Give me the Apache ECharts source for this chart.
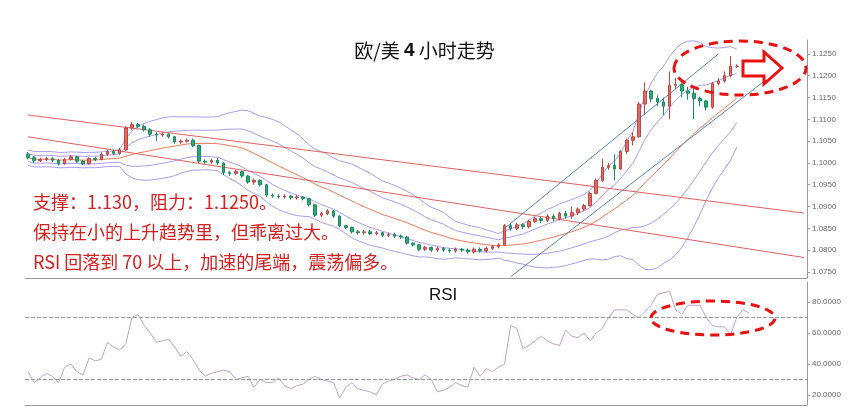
<!DOCTYPE html><html><head><meta charset="utf-8">
<script src="https://cdn.jsdelivr.net/npm/echarts@6/dist/echarts.min.js"></script>
<style>html,body{margin:0;background:#fff}#c{width:849px;height:419px}</style></head><body><div id="c"></div>
<script>
// candles: [open, close, low, high]
const candles = [
[1.1020,1.1012,1.1008,1.1025],[1.1012,1.1005,1.1000,1.1016],[1.1005,1.1008,1.1002,1.1012],[1.1008,1.1010,1.1004,1.1014],
[1.1010,1.1006,1.1002,1.1013],[1.1006,1.0998,1.0994,1.1009],[1.0998,1.1008,1.0996,1.1012],[1.1008,1.1014,1.1005,1.1018],
[1.1014,1.1004,1.1000,1.1016],[1.1004,1.0998,1.0995,1.1007],[1.0998,1.1010,1.0996,1.1013],[1.1010,1.1008,1.1004,1.1014],
[1.1008,1.1020,1.1006,1.1024],[1.1020,1.1026,1.1016,1.1030],[1.1026,1.1022,1.1018,1.1030],[1.1022,1.1030,1.1018,1.1034],
[1.1030,1.1080,1.1028,1.1084],[1.1080,1.1088,1.1076,1.1094],[1.1088,1.1084,1.1080,1.1092],[1.1084,1.1076,1.1072,1.1088],
[1.1076,1.1066,1.1060,1.1080],[1.1066,1.1064,1.1050,1.1070],[1.1064,1.1066,1.1060,1.1070],[1.1066,1.1060,1.1056,1.1068],
[1.1060,1.1048,1.1044,1.1062],[1.1048,1.1050,1.1044,1.1054],[1.1050,1.1052,1.1046,1.1056],[1.1052,1.1040,1.1036,1.1056],
[1.1040,1.1004,1.1000,1.1042],[1.1004,1.1002,1.0998,1.1008],[1.1002,1.1006,1.0998,1.1010],[1.1006,1.1000,1.0996,1.1012],
[1.1000,1.0978,1.0972,1.1002],[1.0978,1.0976,1.0970,1.0982],[1.0976,1.0980,1.0972,1.0984],[1.0980,1.0970,1.0966,1.0982],
[1.0970,1.0956,1.0952,1.0972],[1.0956,1.0960,1.0950,1.0964],[1.0960,1.0950,1.0946,1.0962],[1.0950,1.0926,1.0922,1.0952],
[1.0926,1.0924,1.0920,1.0930],[1.0924,1.0922,1.0918,1.0928],[1.0922,1.0924,1.0918,1.0928],[1.0924,1.0920,1.0916,1.0926],
[1.0920,1.0922,1.0916,1.0926],[1.0922,1.0918,1.0914,1.0924],[1.0918,1.0904,1.0900,1.0920],[1.0904,1.0880,1.0876,1.0906],
[1.0880,1.0884,1.0876,1.0888],[1.0884,1.0890,1.0880,1.0894],[1.0890,1.0878,1.0874,1.0892],[1.0878,1.0856,1.0852,1.0880],
[1.0856,1.0852,1.0848,1.0858],[1.0852,1.0842,1.0838,1.0854],[1.0842,1.0840,1.0836,1.0846],[1.0840,1.0842,1.0836,1.0846],
[1.0842,1.0838,1.0834,1.0846],[1.0838,1.0840,1.0834,1.0844],[1.0840,1.0834,1.0830,1.0842],[1.0834,1.0836,1.0830,1.0840],
[1.0836,1.0832,1.0828,1.0840],[1.0832,1.0830,1.0826,1.0836],[1.0830,1.0816,1.0812,1.0832],[1.0816,1.0812,1.0808,1.0818],
[1.0812,1.0802,1.0798,1.0814],[1.0802,1.0806,1.0798,1.0810],[1.0806,1.0800,1.0796,1.0808],
[1.0800,1.0804,1.0796,1.0808],[1.0804,1.0800,1.0796,1.0807],[1.0800,1.0798,1.0794,1.0804],[1.0798,1.0802,1.0794,1.0806],[1.0802,1.0800,1.0796,1.0805],
[1.0800,1.0796,1.0792,1.0804],
[1.0796,1.0802,1.0792,1.0806],[1.0802,1.0798,1.0794,1.0806],[1.0798,1.0804,1.0794,1.0808],[1.0804,1.0808,1.0800,1.0812],
[1.0808,1.0812,1.0804,1.0816],[1.0812,1.0856,1.0810,1.0860],[1.0856,1.0850,1.0844,1.0860],[1.0850,1.0858,1.0846,1.0862],
[1.0858,1.0854,1.0848,1.0862],[1.0854,1.0866,1.0850,1.0870],[1.0866,1.0872,1.0862,1.0876],[1.0872,1.0868,1.0862,1.0876],
[1.0868,1.0878,1.0864,1.0882],[1.0878,1.0872,1.0866,1.0882],[1.0872,1.0884,1.0868,1.0888],[1.0884,1.0878,1.0872,1.0890],
[1.0878,1.0886,1.0872,1.0900],[1.0886,1.0894,1.0880,1.0898],[1.0894,1.0902,1.0890,1.0906],[1.0902,1.0930,1.0900,1.0934],
[1.0930,1.0960,1.0928,1.0964],[1.0960,1.0990,1.0956,1.1010],[1.0990,1.0994,1.0984,1.1000],
[1.0994,1.0986,1.0960,1.1020],[1.0986,1.1026,1.0984,1.1030],[1.1026,1.1052,1.1020,1.1056],
[1.1052,1.1060,1.1040,1.1070],[1.1060,1.1135,1.1058,1.1140],[1.1135,1.1165,1.1110,1.1185],[1.1165,1.1148,1.1140,1.1168],
[1.1148,1.1140,1.1130,1.1155],[1.1140,1.1130,1.1110,1.1150],[1.1130,1.1178,1.1100,1.1210],[1.1178,1.1180,1.1170,1.1195],
[1.1180,1.1165,1.1150,1.1185],[1.1165,1.1160,1.1145,1.1175],[1.1160,1.1148,1.1100,1.1170],[1.1148,1.1142,1.1130,1.1152],
[1.1142,1.1128,1.1120,1.1144],[1.1128,1.1182,1.1124,1.1186],
[1.1182,1.1188,1.1178,1.1195],[1.1188,1.1200,1.1184,1.1210],[1.1200,1.1222,1.1196,1.1245],[1.1222,1.1222,1.1218,1.1226]
];
const rsi = [35,28,31,34,32,28,38,40,35,33,44,42,43,54,51,49,53,70,72,65,60,54,55,56,51,45,48,43,36,32,34,35,36,35,30,31,32,25,30,28,28,31,26,24,26,27,30,32,30,29,28,18,25,28,24,23,22,20,27,29,30,32,33,31,30,33,30,22,23,25,28,26,25,38,32,37,35,38,40,65,63,50,52,55,58,55,53,52,62,58,57,60,55,60,63,70,75,75,75,72,70,74,78,85,86,87,75,72,78,78,78,70,65,64,64,59,70,75,73];
const priceTicks = [1.0750,1.0800,1.0850,1.0900,1.0950,1.1000,1.1050,1.1100,1.1150,1.1200,1.1250];
const rsiTicks = [20,40,60,80];
const N = 128;
const redLineA = [[0,1.1110],[127,1.0885]];
const redLineB = [[0,1.1060],[127,1.0783]];
const blueLineA = [[78.1,1.0850],[112.9,1.1250]];
const blueLineB = [[79.4,1.0739],[120.9,1.1193]];

const cats = Array.from({length:N},(_,i)=>String(i));
const closes = candles.map(c=>c[1]);
function band(p,k){return closes.map((_,i)=>{const s=closes.slice(Math.max(0,i-p+1),i+1);const m=s.reduce((a,b)=>a+b,0)/s.length;const sd=Math.sqrt(s.reduce((a,b)=>a+(b-m)*(b-m),0)/s.length);return +(m+k*Math.max(sd,0.0008)).toFixed(5);});}
const ma = band(20,0);
const ln=(d,c)=>({type:'line',data:d,showSymbol:false,symbol:'none',lineStyle:{color:c,width:1},silent:true,xAxisIndex:0,yAxisIndex:0,z:1});
const chart = echarts.init(document.getElementById('c'));
chart.setOption({
 animation:false,
 grid:[{left:25,right:42,top:40,bottom:141},{left:25,right:42,top:282,bottom:14}],
 xAxis:[{type:'category',data:cats,gridIndex:0,axisLine:{lineStyle:{color:'#999'}},axisTick:{show:false},axisLabel:{show:false}},
        {type:'category',data:cats,gridIndex:1,axisLine:{lineStyle:{color:'#999'}},axisTick:{show:false},axisLabel:{show:false}}],
 yAxis:[{type:'value',gridIndex:0,position:'right',min:1.0736,max:1.1282,splitLine:{show:false},axisLine:{show:true,lineStyle:{color:'#999'}},
   axisTick:{show:true,customValues:priceTicks,length:3},axisLabel:{customValues:priceTicks,fontSize:8,color:'#666',margin:5,formatter:v=>v.toFixed(4)}},
  {type:'value',gridIndex:1,position:'right',min:13.5,max:93,splitLine:{show:false},axisLine:{show:true,lineStyle:{color:'#999'}},
   axisTick:{show:true,customValues:rsiTicks,length:3},axisLabel:{customValues:rsiTicks,fontSize:8,color:'#666',margin:5,formatter:v=>v.toFixed(4)}}],
 series:[
  ln(band(20,2.2),'#a99cf0'),ln(band(20,1.1),'#a99cf0'),ln(band(20,-1.1),'#a99cf0'),ln(band(20,-2.2),'#a99cf0'),
  ln(ma,'#e87a5a'),
  ln(redLineA,'#e06060'),ln(redLineB,'#e06060'),ln(blueLineA,'#5a88b0'),ln(blueLineB,'#5a88b0'),
  {type:'candlestick',data:candles,barMaxWidth:4,z:3,itemStyle:{color:'#e8675f',color0:'#2aa878',borderColor:'#b84a44',borderColor0:'#1e8a60'}},
  {type:'line',xAxisIndex:1,yAxisIndex:1,data:rsi,showSymbol:false,symbol:'none',lineStyle:{color:'#c0a0d0',width:1},
   markLine:{silent:true,symbol:'none',label:{show:false},lineStyle:{color:'#999',type:'dashed',width:1},data:[{yAxis:70},{yAxis:30}]}}
 ],
 graphic:[
  {type:'text',left:'center',top:41,style:{text:'{a|欧/美 }{b|4}{a| 小时走势}',rich:{a:{fontSize:19,fontFamily:'Noto Sans CJK SC',fill:'#111'},b:{fontSize:19,fontWeight:'bold',fontFamily:'Arial',fill:'#111'}}},x:-10},
  {type:'text',left:33,top:187,style:{text:'支撑：1.130，阻力：1.1250。\n保持在小的上升趋势里，但乖离过大。\nRSI 回落到 70 以上，加速的尾端，震荡偏多。',fontSize:18,lineHeight:30,fill:'#d42020',fontFamily:'Noto Sans CJK SC'},z:10},
  {type:'text',left:429,top:287,style:{text:'RSI',fontSize:17,fill:'#111',fontFamily:'Liberation Sans'}},
  {type:'ellipse',shape:{cx:740,cy:68,rx:66,ry:27},style:{fill:'none',stroke:'#e81010',lineWidth:3,lineDash:[9,6]},z:20},
  {type:'ellipse',shape:{cx:713,cy:318,rx:62,ry:17},style:{fill:'none',stroke:'#e81010',lineWidth:3,lineDash:[9,6]},z:20},
  {type:'polygon',shape:{points:[[743,61],[764,61],[764,52],[782,68],[764,84],[764,76],[743,76]]},style:{fill:'#fff',stroke:'#e81010',lineWidth:3},z:21}
 ]
});
</script></body></html>
